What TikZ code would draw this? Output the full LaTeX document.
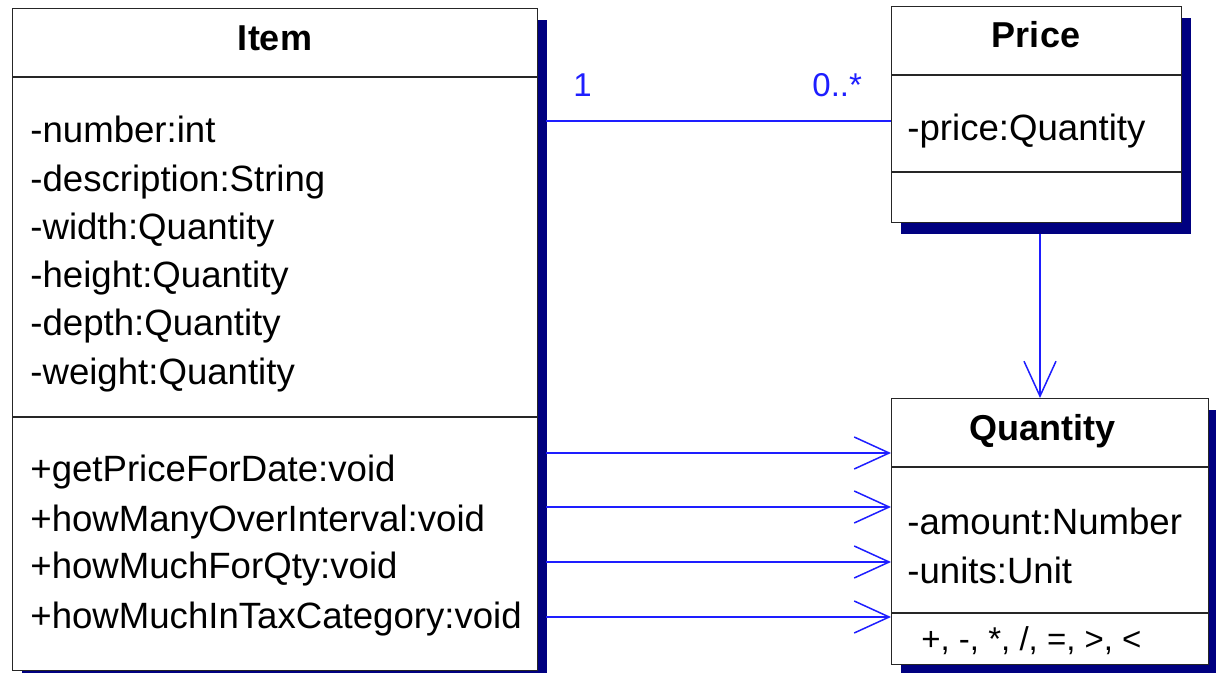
\documentclass[tikz,border=0pt]{standalone}
\usepackage{fontspec}
\setmainfont{Liberation Sans}
\usetikzlibrary{arrows.meta,shadows}
\definecolor{navy}{RGB}{0,0,128}
\definecolor{lineblue}{RGB}{30,30,255}
\tikzset{
  umlbox/.style={draw=black!85, line width=0.7pt, fill=white, inner sep=0pt, anchor=north west,
    drop shadow={shadow xshift=4.5pt, shadow yshift=-5.5pt, fill=navy, opacity=1}},
  divider/.style={draw=black!85, line width=0.7pt},
  txt/.style={inner sep=0pt, anchor=base west, font=\fontsize{18.3}{22}\selectfont},
  ops/.style={inner sep=0pt, anchor=base west, font=\fontsize{16.5}{20}\selectfont},
  ttl/.style={inner sep=0pt, anchor=base, font=\fontsize{18}{22}\selectfont\bfseries},
  mult/.style={inner sep=0pt, anchor=base west, text=lineblue, font=\fontsize{16.5}{20}\selectfont},
  assoc/.style={draw=lineblue, line width=0.75pt},
  dep/.style={draw=lineblue, line width=0.75pt, -{Straight Barb[length=17.5pt,width=16pt,line width=0.75pt]}},
}
\begin{document}
\begin{tikzpicture}[x=0.5pt,y=-0.5pt]
\useasboundingbox (0,0) rectangle (1216,673);
% boxes
\node[umlbox, minimum width=262.5pt, minimum height=331pt] (item) at (12,8) {};
\node[umlbox, minimum width=145pt, minimum height=108pt] (price) at (891,6) {};
\node[umlbox, minimum width=158.5pt, minimum height=133pt] (qty) at (891,398) {};
% dividers
\draw[divider] ([yshift=-34.5pt]item.north west) -- ([yshift=-34.5pt]item.north east);
\draw[divider] ([yshift=-204.5pt]item.north west) -- ([yshift=-204.5pt]item.north east);
\draw[divider] ([yshift=-34.5pt]price.north west) -- ([yshift=-34.5pt]price.north east);
\draw[divider] ([yshift=-83pt]price.north west) -- ([yshift=-83pt]price.north east);
\draw[divider] ([yshift=-34.5pt]qty.north west) -- ([yshift=-34.5pt]qty.north east);
\draw[divider] ([yshift=-107.5pt]qty.north west) -- ([yshift=-107.5pt]qty.north east);
% Item texts
\node[ttl] (itemT) at (275,51) {Item};
\node[txt] (i1) at (30,143) {-number:int};
\node[txt] (i2) at (30,192) {-description:String};
\node[txt] (i3) at (30,240) {-width:Quantity};
\node[txt] (i4) at (30,288) {-height:Quantity};
\node[txt] (i5) at (30,336) {-depth:Quantity};
\node[txt] (i6) at (30,385) {-weight:Quantity};
\node[txt] (m1) at (30,482) {+getPriceForDate:void};
\node[txt] (m2) at (30,531) {+howManyOverInterval:void};
\node[txt] (m3) at (30,579) {+howMuchForQty:void};
\node[txt] (m4) at (30,628) {+howMuchInTaxCategory:void};
% Price texts
\node[ttl] (priceT) at (1036,48) {Price};
\node[txt] (p1) at (907,141) {-price:Quantity};
% Quantity texts
\node[ttl] (qtyT) at (1042,441) {Quantity};
\node[txt] (q1) at (907,535) {-amount:Number};
\node[txt] (q2) at (907,583) {-units:Unit};
\node[ops] (q3) at (921,650) {+, -, *, /, =, >, <};
% association
\coordinate (ya) at (0,121);
\draw[assoc] ([xshift=4pt]item.east |- ya) -- (price.west |- ya);
\node[mult] (m1lbl) at (573,97) {1};
\node[mult] (m2lbl) at (812,97) {0..*};
% price -> quantity
\coordinate (xp) at (1040,0);
\draw[dep] ([yshift=-5.5pt]price.south -| xp) -- (qty.north -| xp);
% item -> quantity dependencies
\coordinate (r1) at (0,453);
\coordinate (r2) at (0,507);
\coordinate (r3) at (0,562);
\coordinate (r4) at (0,617);
\foreach \r in {r1,r2,r3,r4}{
  \draw[dep] ([xshift=4pt]item.east |- \r) -- (qty.west |- \r);
}
\end{tikzpicture}
\end{document}
